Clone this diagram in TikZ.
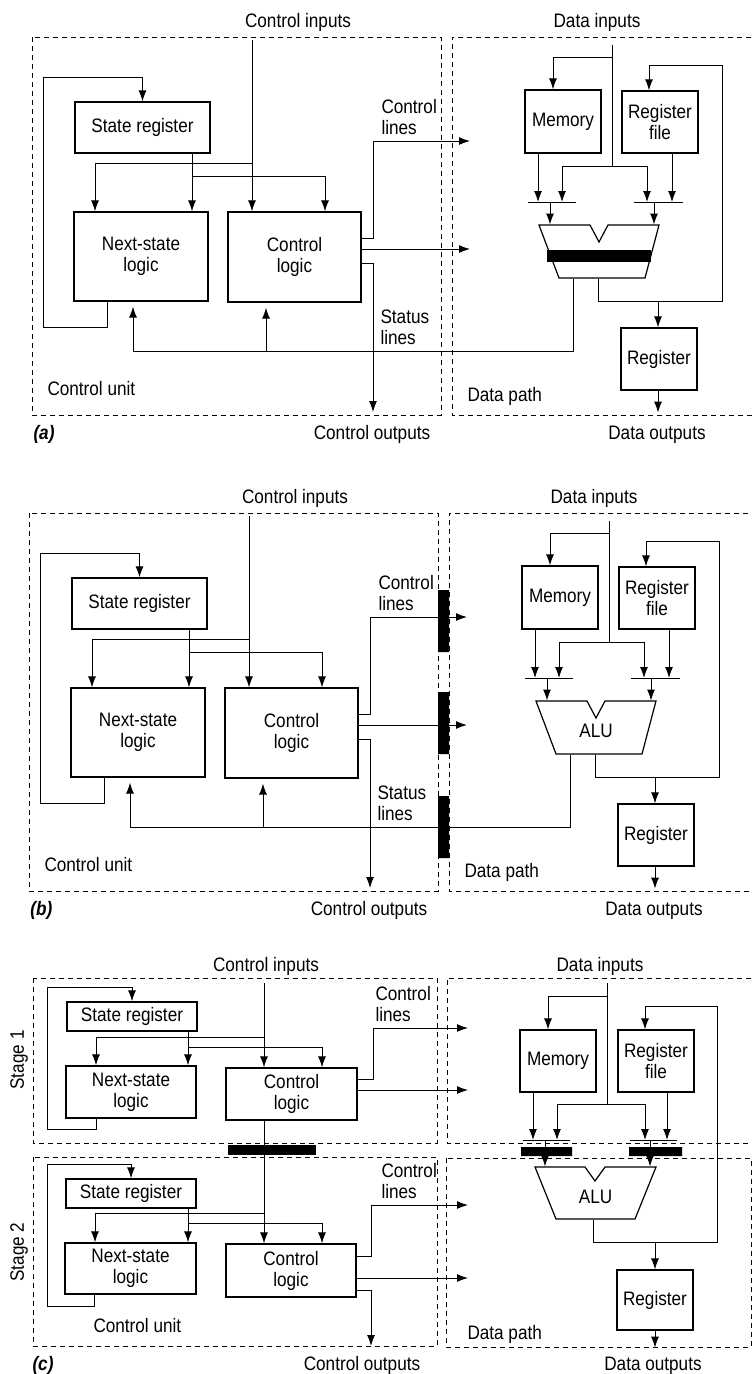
\documentclass[tikz,border=0pt]{standalone}
\usepackage{fontspec}
\setmainfont[FakeStretch=0.88]{Liberation Sans}
\usetikzlibrary{arrows.meta}
\begin{document}
\begin{tikzpicture}[x=1pt,y=-1pt,line width=1pt,>={Latex[length=11pt,width=8pt]},
       font=\fontsize{19.5}{21}\selectfont,
       blk/.style={draw,line width=1.2pt,inner sep=0pt,align=center},
       unitbox/.style={line width=0.8pt,dash pattern=on 5pt off 4pt},
       lbl/.style={inner sep=0pt,anchor=base},
       side/.style={inner sep=0pt,anchor=north west,align=left},
       tagtxt/.style={inner sep=0pt,anchor=base west,font=\fontsize{19.5}{21}\selectfont\bfseries\itshape},
       aluspot/.style={inner sep=0pt,minimum width=120,text height=21pt}]
       \useasboundingbox (0,0) rectangle (752,1374);
       \clip (0,0) rectangle (752,1374);

       % Panels (a) and (b) have the same layout
       \foreach \p/\dx/\dy/\alutext in {a/0/0/{}, b/-3/476/ALU} {
       \begin{scope}[shift={(\dx,\dy)},name prefix=\p-]
       % Frames and outer labels
       \draw[unitbox] (32,37) rectangle (441,415);
       \draw[unitbox] (760,37) -| (452,415) -- (760,415);
       \node[lbl] (cin) at (298,27) {Control inputs};
       \node[lbl] (din) at (597,27) {Data inputs};
       \node[lbl] (cout) at (372,439) {Control outputs};
       \node[lbl] (dout) at (657,439) {Data outputs};
       \node[tagtxt] (tag) at (33,439) {(\p)};
       \node[lbl,anchor=base west] (cu) at (47,395) {Control unit};
       \node[lbl,anchor=base west] (dp) at (467,401) {Data path};
       \node[side] (ctl) at (381,99) {Control\\lines};
       \node[side] (sts) at (380,309) {Status\\lines};

       % Control unit
       \node[blk,minimum width=135,minimum height=51] (sr) at (142.5,127.5) {State register};
       \node[blk,minimum width=134,minimum height=89] (ns) at (141,256.5) {Next-state\\logic};
       \node[blk,minimum width=133,minimum height=90] (cl) at (294.5,257) {Control\\logic};
       \coordinate (ci) at (252,40);
       \coordinate (lo1) at (470,141);
       \coordinate (lo2) at (470,249);
       \coordinate (co) at (373,412);
       \draw[->] (ci) -- (ci |- cl.north);
       \draw[->] (ci |- 0,163) -| (ns.north -| 95,0);
       \draw[->] (sr.south -| 192,0) -- (ns.north -| 192,0);
       \draw[->] (192,176) -| (cl.north -| 325,0);
       \draw[->] (ns.south -| 107,0) -- ++(0,26) -| (43,77) -| (sr.north);
       \draw[->] (cl.east |- 0,238) -| (373,141) -- (lo1);
       \draw[->] (cl.east |- 0,249) -- (lo2);
       \draw[->] (cl.east |- 0,263) -| (co);

       % Data path
       \node[blk,minimum width=76,minimum height=63] (mem) at (563,121.5) {Memory};
       \node[blk,minimum width=76,minimum height=62] (rf) at (660,122) {Register\\file};
       \node[blk,minimum width=76,minimum height=62] (reg) at (659,359) {Register};
       \node[aluspot,minimum height=53] (alu) at (599,251.5) {\alutext};
       \draw[line width=1.2pt] (539,225) -- (590,225) -- (599,242) -- (608,225) -- (659,225)
             -- (645,278) -- (559,278) -- cycle;
       \coordinate (di) at (612,45);
       \draw (di) -- (612,166);
       \draw[->] (di |- 0,57) -| (mem.north -| 553,0);
       \draw[->] (612,166) -| (562,202);
       \draw[->] (612,166) -| (647,202);
       \draw[->] (mem.south -| 538,0) -- (538,202);
       \draw[->] (rf.south -| 672,0) -- (672,202);
       \draw (528,202) -- (576,202) (634,202) -- (683,202);
       \draw[->] (550,202) -- (alu.north -| 550,0);
       \draw[->] (654,202) -- (alu.north -| 654,0);
       \draw[->] (alu.south -| 598,0) |- (722,301) |- (649,65) -- (rf.north -| 649,0);
       \draw[->] (658,301) -- (reg.north -| 658,0);
       \draw[->] (reg.south -| 658,0) -- ++(0,22);
       % Status lines back to the control unit
       \draw[->,shorten >=5pt] (alu.south -| 573,0) |- (133,351) -- (ns.south -| 133,0);
       \draw[->,shorten >=5pt] (266,351) -- (cl.south -| 266,0);
       \end{scope}}

       % ALU of (a) with its black bar, pipeline registers of (b)
       \fill (547,250) rectangle (651,262);
       \fill (438,590) rectangle (449,652) (438,692) rectangle (449,754) (438,796) rectangle (449,858);

       % Panel (c): two stages
       \draw[unitbox] (33,978) rectangle (437,1143);
       \draw[unitbox] (33,1157) rectangle (437,1346);
       \draw[unitbox] (760,978) -| (447,1143) -- (760,1143);
       \draw[unitbox] (446,1158) rectangle (751,1347);
       \node[lbl] (cin3) at (266,971) {Control inputs};
       \node[lbl] (din3) at (600,971) {Data inputs};
       \node[lbl] (cout3) at (362,1370) {Control outputs};
       \node[lbl] (dout3) at (653,1370) {Data outputs};
       \node[tagtxt] (tag3) at (32,1370) {(c)};
       \node[rotate=90,inner sep=0pt] (st1) at (19,1060) {Stage 1};
       \node[rotate=90,inner sep=0pt] (st2) at (19,1252) {Stage 2};
       \node[lbl,anchor=base west] (cu3) at (93,1332) {Control unit};
       \node[lbl,anchor=base west] (dp3) at (467,1339) {Data path};
       \node[side] (ctl31) at (375,986) {Control\\lines};
       \node[side] (ctl32) at (381,1163) {Control\\lines};

       % Control logic of both stages
       \node[blk,minimum width=130,minimum height=29] (sr1) at (132,1016.5) {State register};
       \node[blk,minimum width=130,minimum height=52] (ns1) at (131,1092) {Next-state\\logic};
       \node[blk,minimum width=131,minimum height=52] (cl1) at (291.5,1094) {Control\\logic};
       \node[blk,minimum width=130,minimum height=29] (sr2) at (131,1193.5) {State register};
       \node[blk,minimum width=131,minimum height=51] (ns2) at (130.5,1268.5) {Next-state\\logic};
       \node[blk,minimum width=130,minimum height=53] (cl2) at (291,1270.5) {Control\\logic};
       \coordinate (ci3) at (264,983);
       \coordinate (lo31) at (468,1028);
       \coordinate (lo32) at (468,1090);
       \coordinate (lo33) at (468,1205);
       \coordinate (lo34) at (468,1278);
       \coordinate (co3) at (371,1346);
       \draw[->] (ci3) -- (ci3 |- cl1.north);
       \draw[->] (ci3 |- 0,1037) -| (ns1.north -| 96,0);
       \draw[->] (sr1.south -| 188,0) -- (ns1.north -| 188,0);
       \draw[->] (188,1047) -| (cl1.north -| 322,0);
       \draw[->] (ns1.south -| 96,0) -- ++(0,11) -| (47,987) -| (sr1.north);
       \draw[->] (cl1.east |- 0,1079) -| (373,1028) -- (lo31);
       \draw[->] (cl1.east |- 0,1090) -- (lo32);
       \draw[->] (cl1.south -| ci3) -- (cl2.north -| ci3);
       \fill (228,1145) rectangle (316,1155);
       \draw[->] (ci3 |- 0,1213) -| (ns2.north -| 95,0);
       \draw[->] (sr2.south -| 188,0) -- (ns2.north -| 188,0);
       \draw[->] (188,1223) -| (cl2.north -| 322,0);
       \draw[->] (ns2.south -| 94,0) -- ++(0,12) -| (47,1164) -| (sr2.north);
       \draw[->] (cl2.east |- 0,1256) -| (371,1205) -- (lo33);
       \draw[->] (cl2.east |- 0,1278) -- (lo34);
       \draw[->] (cl2.east |- 0,1290) -| (co3);

       % Data path split by the pipeline registers
       \node[blk,minimum width=76,minimum height=62] (mem3) at (558,1061) {Memory};
       \node[blk,minimum width=76,minimum height=62] (rf3) at (656,1061) {Register\\file};
       \node[blk,minimum width=76,minimum height=60] (reg3) at (655,1300) {Register};
       \node[aluspot,minimum height=52] (alu3) at (595.5,1193) {ALU};
       \draw[line width=1.2pt] (535,1167) -- (585,1167) -- (595,1181) -- (605,1167) -- (656,1167)
             -- (635,1219) -- (556,1219) -- cycle;
       \coordinate (di3) at (607,983);
       \draw (di3) -- (607,1104);
       \draw[->] (di3 |- 0,996) -| (mem3.north -| 548,0);
       \draw[->] (607,1104) -| (557,1140);
       \draw[->] (607,1104) -| (645,1140);
       \draw[->] (mem3.south -| 533,0) -- (533,1140);
       \draw[->] (rf3.south -| 667,0) -- (667,1140);
       \draw (523,1140) -- (570,1140) (630,1140) -- (677,1140);
       \fill (521,1147) rectangle (572,1156) (629,1147) rectangle (682,1156);
       \draw[->] (545,1140) -- (alu3.north -| 545,0);
       \draw[->] (650,1140) -- (alu3.north -| 650,0);
       \draw[->] (alu3.south -| 593,0) |- (717,1242) |- (645,1006) -- (rf3.north -| 645,0);
       \draw[->] (655,1242) -- (reg3.north);
       \draw[->] (reg3.south) -- ++(0,17);
\end{tikzpicture}
\end{document}
